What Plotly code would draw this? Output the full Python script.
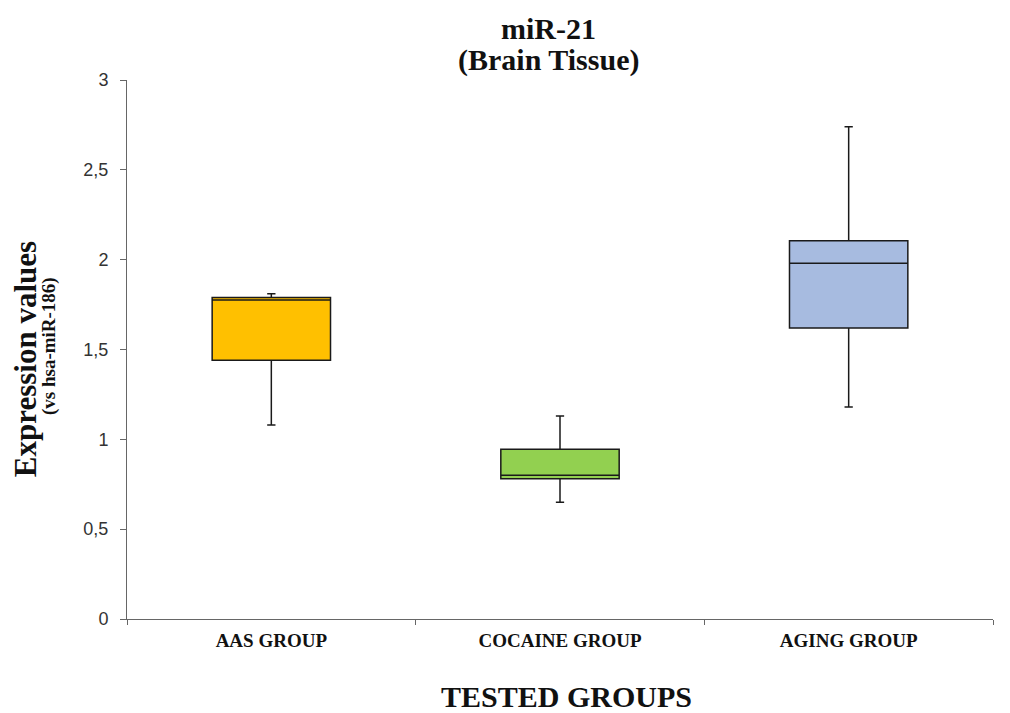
import plotly.graph_objects as go

# Summary statistics of miR-21 expression per group
groups = ["AAS GROUP", "COCAINE GROUP", "AGING GROUP"]
lower_whisker = [1.08, 0.65, 1.18]
q1_values = [1.44, 0.78, 1.62]
median_values = [1.775, 0.80, 1.98]
q3_values = [1.79, 0.945, 2.105]
upper_whisker = [1.81, 1.13, 2.74]
fill_colors = ["#FFC000", "#92D050", "#A7BBE0"]

y_tick_values = [0, 0.5, 1, 1.5, 2, 2.5, 3]
y_tick_labels = ["0", "0,5", "1", "1,5", "2", "2,5", "3"]

fig = go.Figure()
for i, name in enumerate(groups):
    fig.add_trace(go.Box(
        x=[name],
        q1=[q1_values[i]],
        median=[median_values[i]],
        q3=[q3_values[i]],
        lowerfence=[lower_whisker[i]],
        upperfence=[upper_whisker[i]],
        fillcolor=fill_colors[i],
        line=dict(color="#1a1a1a", width=1.5),
        width=0.41,
        whiskerwidth=0.07,
        boxpoints=False,
        showlegend=False,
        hoverinfo="skip",
    ))

serif = "Liberation Serif, Times New Roman, serif"
sans = "Liberation Sans, Arial, sans-serif"

fig.update_layout(
    width=1010,
    height=713,
    margin=dict(l=127, r=17, t=80, b=94),
    plot_bgcolor="white",
    paper_bgcolor="white",
    boxmode="overlay",
    xaxis=dict(
        categoryorder="array", categoryarray=groups,
        range=[-0.5, 2.5],
        showline=True, linecolor="#666", linewidth=1,
        ticks="outside", ticklen=5, tickcolor="#666",
        tickson="boundaries",
        ticklabelstandoff=4,
        tickfont=dict(family=serif, size=19, color="#111", weight="bold"),
        showgrid=False, zeroline=False,
    ),
    yaxis=dict(
        range=[0, 3],
        tickvals=y_tick_values, ticktext=y_tick_labels,
        ticklabelstandoff=8,
        showline=True, linecolor="#666", linewidth=1,
        ticks="outside", ticklen=6, tickcolor="#666",
        tickfont=dict(family=sans, size=18, color="#333"),
        showgrid=False, zeroline=False,
    ),
)

# Chart title, two closely spaced lines
title_x = (548 - 127) / 866
for line_text, center_px in [("<b>miR-21</b>", 28), ("<b>(Brain Tissue)</b>", 60)]:
    fig.add_annotation(
        text=line_text,
        xref="paper", yref="paper", x=title_x, y=(619 - center_px) / 539,
        xanchor="center", yanchor="middle", showarrow=False,
        font=dict(family=serif, size=30, color="#111"),
    )

fig.add_annotation(
    text="<b>TESTED GROUPS</b>",
    xref="paper", yref="paper", x=0.507, y=-0.1447,
    xanchor="center", yanchor="middle", showarrow=False,
    font=dict(family=serif, size=30, color="#111"),
)
fig.add_annotation(
    text="<b>Expression values</b>", textangle=-90,
    xref="paper", yref="paper", x=-0.1178, y=0.482,
    xanchor="center", yanchor="middle", showarrow=False,
    font=dict(family=serif, size=31, color="#111"),
)
fig.add_annotation(
    text="<b>(vs hsa-miR-186)</b>", textangle=-90,
    xref="paper", yref="paper", x=-0.090, y=0.5065,
    xanchor="center", yanchor="middle", showarrow=False,
    font=dict(family=serif, size=19, color="#111"),
)

fig.write_html("out.html")
